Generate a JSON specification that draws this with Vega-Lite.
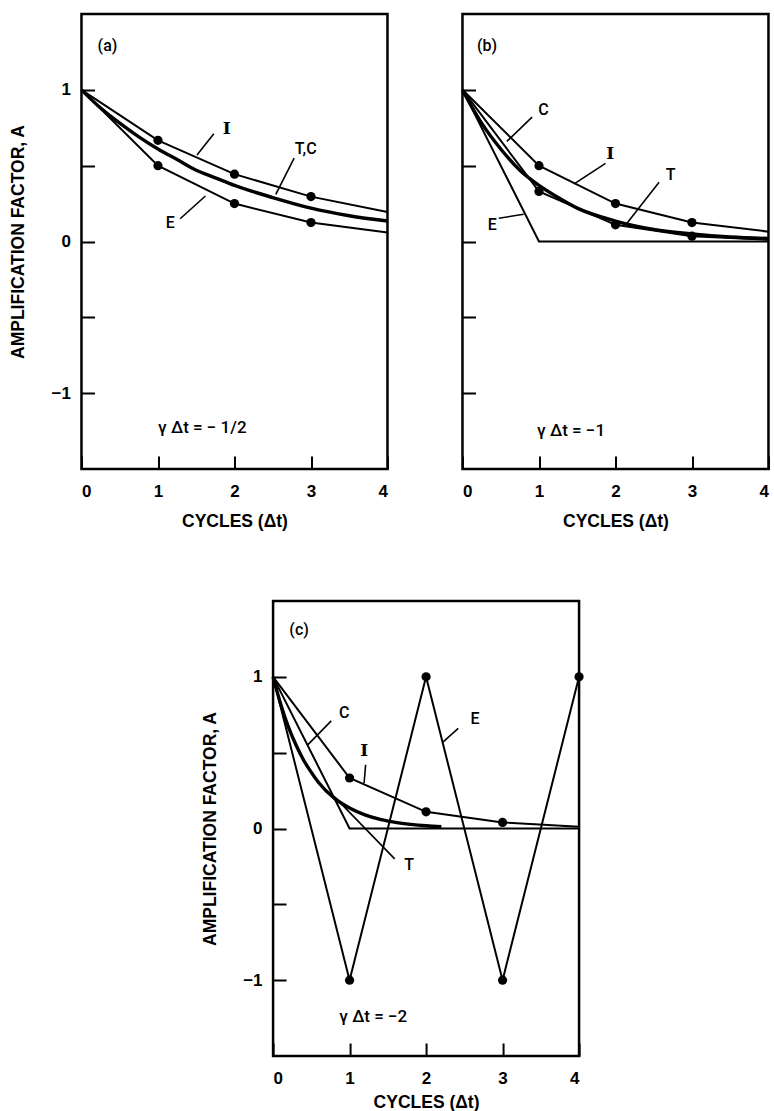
{
  "$schema": "https://vega.github.io/schema/vega-lite/v6.json",
  "padding": {"left": 8, "top": 12, "right": 0, "bottom": 0},
  "background": "white",
  "center": true,
  "spacing": 68,
  "config": {
    "view": {"stroke": "black", "strokeWidth": 2.5},
    "font": "Liberation Sans",
    "axis": {
      "grid": false, "domain": false, "tickColor": "black", "tickWidth": 2, "tickSize": -13,
      "labelFont": "Liberation Sans", "labelFontWeight": "bold", "labelFontSize": 17, "labelColor": "black",
      "titleFont": "Liberation Sans", "titleFontWeight": "bold", "titleFontSize": 17.5, "titleColor": "black"
    },
    "axisX": {"labelPadding": 35, "labelBaseline": "middle", "labelAngle": 0},
    "axisY": {"labelPadding": 24, "labelBaseline": "middle"}
  },
  "datasets": {
    "lines": [
      {"panel": "a", "series": "I", "x": 0, "y": 1}, {"panel": "a", "series": "I", "x": 1, "y": 0.667}, {"panel": "a", "series": "I", "x": 2, "y": 0.444}, {"panel": "a", "series": "I", "x": 3, "y": 0.296}, {"panel": "a", "series": "I", "x": 4, "y": 0.195},
      {"panel": "a", "series": "E", "x": 0, "y": 1}, {"panel": "a", "series": "E", "x": 1, "y": 0.5}, {"panel": "a", "series": "E", "x": 2, "y": 0.25}, {"panel": "a", "series": "E", "x": 3, "y": 0.125}, {"panel": "a", "series": "E", "x": 4, "y": 0.06},
      {"panel": "a", "series": "T", "x": 0, "y": 1}, {"panel": "a", "series": "T", "x": 0.25, "y": 0.88}, {"panel": "a", "series": "T", "x": 0.5, "y": 0.78}, {"panel": "a", "series": "T", "x": 0.75, "y": 0.69}, {"panel": "a", "series": "T", "x": 1, "y": 0.61}, {"panel": "a", "series": "T", "x": 1.25, "y": 0.54}, {"panel": "a", "series": "T", "x": 1.5, "y": 0.47}, {"panel": "a", "series": "T", "x": 1.75, "y": 0.42}, {"panel": "a", "series": "T", "x": 2, "y": 0.37}, {"panel": "a", "series": "T", "x": 2.5, "y": 0.29}, {"panel": "a", "series": "T", "x": 3, "y": 0.22}, {"panel": "a", "series": "T", "x": 3.5, "y": 0.17}, {"panel": "a", "series": "T", "x": 4, "y": 0.135},
      {"panel": "b", "series": "I", "x": 0, "y": 1}, {"panel": "b", "series": "I", "x": 1, "y": 0.5}, {"panel": "b", "series": "I", "x": 2, "y": 0.25}, {"panel": "b", "series": "I", "x": 3, "y": 0.125}, {"panel": "b", "series": "I", "x": 4, "y": 0.065},
      {"panel": "b", "series": "C", "x": 0, "y": 1}, {"panel": "b", "series": "C", "x": 1, "y": 0.33}, {"panel": "b", "series": "C", "x": 2, "y": 0.11}, {"panel": "b", "series": "C", "x": 3, "y": 0.035}, {"panel": "b", "series": "C", "x": 4, "y": 0.012},
      {"panel": "b", "series": "E", "x": 0, "y": 1}, {"panel": "b", "series": "E", "x": 1, "y": 0}, {"panel": "b", "series": "E", "x": 4, "y": 0},
      {"panel": "b", "series": "T", "x": 0, "y": 1}, {"panel": "b", "series": "T", "x": 0.25, "y": 0.78}, {"panel": "b", "series": "T", "x": 0.5, "y": 0.61}, {"panel": "b", "series": "T", "x": 0.75, "y": 0.47}, {"panel": "b", "series": "T", "x": 1, "y": 0.37}, {"panel": "b", "series": "T", "x": 1.25, "y": 0.29}, {"panel": "b", "series": "T", "x": 1.5, "y": 0.22}, {"panel": "b", "series": "T", "x": 2, "y": 0.135}, {"panel": "b", "series": "T", "x": 2.5, "y": 0.08}, {"panel": "b", "series": "T", "x": 3, "y": 0.05}, {"panel": "b", "series": "T", "x": 3.5, "y": 0.03}, {"panel": "b", "series": "T", "x": 4, "y": 0.02},
      {"panel": "c", "series": "I", "x": 0, "y": 1}, {"panel": "c", "series": "I", "x": 1, "y": 0.333}, {"panel": "c", "series": "I", "x": 2, "y": 0.11}, {"panel": "c", "series": "I", "x": 3, "y": 0.04}, {"panel": "c", "series": "I", "x": 4, "y": 0.012},
      {"panel": "c", "series": "E", "x": 0, "y": 1}, {"panel": "c", "series": "E", "x": 1, "y": -1}, {"panel": "c", "series": "E", "x": 2, "y": 1}, {"panel": "c", "series": "E", "x": 3, "y": -1}, {"panel": "c", "series": "E", "x": 4, "y": 1},
      {"panel": "c", "series": "C", "x": 0, "y": 1}, {"panel": "c", "series": "C", "x": 1, "y": 0}, {"panel": "c", "series": "C", "x": 4, "y": 0},
      {"panel": "c", "series": "T", "x": 0, "y": 1}, {"panel": "c", "series": "T", "x": 0.1, "y": 0.82}, {"panel": "c", "series": "T", "x": 0.2, "y": 0.67}, {"panel": "c", "series": "T", "x": 0.3, "y": 0.55}, {"panel": "c", "series": "T", "x": 0.4, "y": 0.45}, {"panel": "c", "series": "T", "x": 0.5, "y": 0.37}, {"panel": "c", "series": "T", "x": 0.6, "y": 0.3}, {"panel": "c", "series": "T", "x": 0.8, "y": 0.2}, {"panel": "c", "series": "T", "x": 1.0, "y": 0.135}, {"panel": "c", "series": "T", "x": 1.2, "y": 0.09}, {"panel": "c", "series": "T", "x": 1.4, "y": 0.06}, {"panel": "c", "series": "T", "x": 1.6, "y": 0.04}, {"panel": "c", "series": "T", "x": 1.8, "y": 0.027}, {"panel": "c", "series": "T", "x": 2.0, "y": 0.018}, {"panel": "c", "series": "T", "x": 2.2, "y": 0.012}
    ],
    "dots": [
      {"panel": "a", "series": "I", "x": 1, "y": 0.667}, {"panel": "a", "series": "I", "x": 2, "y": 0.444}, {"panel": "a", "series": "I", "x": 3, "y": 0.296},
      {"panel": "a", "series": "E", "x": 1, "y": 0.5}, {"panel": "a", "series": "E", "x": 2, "y": 0.25}, {"panel": "a", "series": "E", "x": 3, "y": 0.125},
      {"panel": "b", "series": "I", "x": 1, "y": 0.5}, {"panel": "b", "series": "I", "x": 2, "y": 0.25}, {"panel": "b", "series": "I", "x": 3, "y": 0.125},
      {"panel": "b", "series": "C", "x": 1, "y": 0.33}, {"panel": "b", "series": "C", "x": 2, "y": 0.11}, {"panel": "b", "series": "C", "x": 3, "y": 0.035},
      {"panel": "c", "series": "I", "x": 1, "y": 0.333}, {"panel": "c", "series": "I", "x": 2, "y": 0.11}, {"panel": "c", "series": "I", "x": 3, "y": 0.04},
      {"panel": "c", "series": "E", "x": 1, "y": -1}, {"panel": "c", "series": "E", "x": 2, "y": 1}, {"panel": "c", "series": "E", "x": 3, "y": -1}, {"panel": "c", "series": "E", "x": 4, "y": 1}
    ],
    "labels": [
      {"panel": "a", "label": "(a)", "x": 0.34, "y": 1.29}, {"panel": "a", "label": "I", "x": 1.9, "y": 0.745}, {"panel": "a", "label": "T,C", "x": 2.93, "y": 0.61}, {"panel": "a", "label": "E", "x": 1.16, "y": 0.12},
      {"panel": "b", "label": "(b)", "x": 0.32, "y": 1.29}, {"panel": "b", "label": "C", "x": 1.06, "y": 0.87}, {"panel": "b", "label": "I", "x": 1.93, "y": 0.58}, {"panel": "b", "label": "T", "x": 2.72, "y": 0.44}, {"panel": "b", "label": "E", "x": 0.39, "y": 0.11},
      {"panel": "c", "label": "(c)", "x": 0.34, "y": 1.31}, {"panel": "c", "label": "C", "x": 0.93, "y": 0.76}, {"panel": "c", "label": "I", "x": 1.19, "y": 0.51}, {"panel": "c", "label": "T", "x": 1.78, "y": -0.24}, {"panel": "c", "label": "E", "x": 2.64, "y": 0.72}
    ],
    "formulas": [
      {"panel": "a", "label": "γ  Δt  =  −  1/2", "x": 1.58, "y": -1.23},
      {"panel": "b", "label": "γ  Δt = −1", "x": 1.42, "y": -1.25},
      {"panel": "c", "label": "γ Δt = −2", "x": 1.31, "y": -1.24}
    ],
    "leaders": [
      {"panel": "a", "x": 1.73, "y": 0.71, "x2": 1.51, "y2": 0.57}, {"panel": "a", "x": 2.78, "y": 0.55, "x2": 2.54, "y2": 0.31}, {"panel": "a", "x": 1.29, "y": 0.15, "x2": 1.62, "y2": 0.3},
      {"panel": "b", "x": 0.91, "y": 0.82, "x2": 0.58, "y2": 0.66}, {"panel": "b", "x": 1.87, "y": 0.515, "x2": 1.46, "y2": 0.38}, {"panel": "b", "x": 2.57, "y": 0.39, "x2": 2.15, "y2": 0.12}, {"panel": "b", "x": 0.475, "y": 0.153, "x2": 0.8, "y2": 0.18},
      {"panel": "c", "x": 0.76, "y": 0.71, "x2": 0.45, "y2": 0.55}, {"panel": "c", "x": 1.21, "y": 0.42, "x2": 1.19, "y2": 0.3}, {"panel": "c", "x": 1.59, "y": -0.2, "x2": 0.8, "y2": 0.21}, {"panel": "c", "x": 2.42, "y": 0.66, "x2": 2.22, "y2": 0.57}
    ]
  },
  "vconcat": [
    {
      "spacing": 57,
      "hconcat": [
        {
          "width": 306, "height": 455,
          "encoding": {
            "x": {"field": "x", "type": "quantitative", "scale": {"domain": [0, 4], "nice": false, "zero": false}, "axis": {"values": [0, 1, 2, 3, 4], "format": "d", "title": "CYCLES (Δt)", "titleY": 52, "titleBaseline": "middle"}},
            "y": {"field": "y", "type": "quantitative", "scale": {"domain": [-1.5, 1.5], "nice": false, "zero": false}, "axis": {"values": [-1, -0.5, 0, 0.5, 1], "labelExpr": "datum.value == 1 ? '1' : datum.value == 0 ? '0' : datum.value == -1 ? '−1' : ''", "title": "AMPLIFICATION FACTOR, A", "titleX": -63, "titleBaseline": "middle"}}
          },
          "layer": [
            {"data": {"values": [{}]}, "mark": {"type": "rule", "color": "black", "strokeWidth": 2}, "encoding": {"x": {"datum": 0}, "x2": {"datum": 4}, "y": {"datum": 0}}},
            {"data": {"name": "lines"}, "transform": [{"filter": "datum.panel == 'a' && datum.series != 'T'"}], "mark": {"type": "line", "color": "black", "strokeWidth": 2}, "encoding": {"detail": {"field": "series"}}},
            {"data": {"name": "lines"}, "transform": [{"filter": "datum.panel == 'a' && datum.series == 'T'"}], "mark": {"type": "line", "color": "black", "strokeWidth": 3.4, "interpolate": "monotone"}, "encoding": {}},
            {"data": {"name": "dots"}, "transform": [{"filter": "datum.panel == 'a'"}], "mark": {"type": "point", "filled": true, "color": "black", "opacity": 1, "size": 85}, "encoding": {}},
            {"data": {"name": "leaders"}, "transform": [{"filter": "datum.panel == 'a'"}], "mark": {"type": "rule", "color": "black", "strokeWidth": 1.6}, "encoding": {"x2": {"field": "x2"}, "y2": {"field": "y2"}}},
            {"data": {"name": "labels"}, "transform": [{"filter": "datum.panel == 'a' && datum.label != 'I'"}], "mark": {"type": "text", "font": "Roboto", "fontWeight": 500, "fontSize": 16, "color": "black"}, "encoding": {"text": {"field": "label"}}},
            {"data": {"name": "labels"}, "transform": [{"filter": "datum.panel == 'a' && datum.label == 'I'"}], "mark": {"type": "text", "font": "DejaVu Serif", "fontWeight": "bold", "fontSize": 17, "color": "black"}, "encoding": {"text": {"field": "label"}}},
            {"data": {"name": "formulas"}, "transform": [{"filter": "datum.panel == 'a'"}], "mark": {"type": "text", "font": "Roboto", "fontWeight": 500, "fontSize": 17, "color": "black"}, "encoding": {"text": {"field": "label"}}}
          ]
        },
        {
          "width": 306, "height": 455,
          "encoding": {
            "x": {"field": "x", "type": "quantitative", "scale": {"domain": [0, 4], "nice": false, "zero": false}, "axis": {"values": [0, 1, 2, 3, 4], "format": "d", "title": "CYCLES (Δt)", "titleY": 52, "titleBaseline": "middle"}},
            "y": {"field": "y", "type": "quantitative", "scale": {"domain": [-1.5, 1.5], "nice": false, "zero": false}, "axis": {"values": [-1, -0.5, 0, 0.5, 1], "labels": false, "title": null}}
          },
          "layer": [
            {"data": {"values": [{}]}, "mark": {"type": "rule", "color": "black", "strokeWidth": 2}, "encoding": {"x": {"datum": 0}, "x2": {"datum": 4}, "y": {"datum": 0}}},
            {"data": {"name": "lines"}, "transform": [{"filter": "datum.panel == 'b' && datum.series != 'T'"}], "mark": {"type": "line", "color": "black", "strokeWidth": 2}, "encoding": {"detail": {"field": "series"}}},
            {"data": {"name": "lines"}, "transform": [{"filter": "datum.panel == 'b' && datum.series == 'T'"}], "mark": {"type": "line", "color": "black", "strokeWidth": 3.4, "interpolate": "monotone"}, "encoding": {}},
            {"data": {"name": "dots"}, "transform": [{"filter": "datum.panel == 'b'"}], "mark": {"type": "point", "filled": true, "color": "black", "opacity": 1, "size": 85}, "encoding": {}},
            {"data": {"name": "leaders"}, "transform": [{"filter": "datum.panel == 'b'"}], "mark": {"type": "rule", "color": "black", "strokeWidth": 1.6}, "encoding": {"x2": {"field": "x2"}, "y2": {"field": "y2"}}},
            {"data": {"name": "labels"}, "transform": [{"filter": "datum.panel == 'b' && datum.label != 'I'"}], "mark": {"type": "text", "font": "Roboto", "fontWeight": 500, "fontSize": 16, "color": "black"}, "encoding": {"text": {"field": "label"}}},
            {"data": {"name": "labels"}, "transform": [{"filter": "datum.panel == 'b' && datum.label == 'I'"}], "mark": {"type": "text", "font": "DejaVu Serif", "fontWeight": "bold", "fontSize": 17, "color": "black"}, "encoding": {"text": {"field": "label"}}},
            {"data": {"name": "formulas"}, "transform": [{"filter": "datum.panel == 'b'"}], "mark": {"type": "text", "font": "Roboto", "fontWeight": 500, "fontSize": 17, "color": "black"}, "encoding": {"text": {"field": "label"}}}
          ]
        }
      ]
    },
    {
      "width": 306, "height": 455,
      "encoding": {
        "x": {"field": "x", "type": "quantitative", "scale": {"domain": [0, 4], "nice": false, "zero": false}, "axis": {"values": [0, 1, 2, 3, 4], "format": "d", "title": "CYCLES (Δt)", "titleY": 46, "titleBaseline": "middle"}},
        "y": {"field": "y", "type": "quantitative", "scale": {"domain": [-1.5, 1.5], "nice": false, "zero": false}, "axis": {"values": [-1, -0.5, 0, 0.5, 1], "labelExpr": "datum.value == 1 ? '1' : datum.value == 0 ? '0' : datum.value == -1 ? '−1' : ''", "title": "AMPLIFICATION FACTOR, A", "titleX": -63, "titleBaseline": "middle"}}
      },
      "layer": [
        {"data": {"values": [{}]}, "mark": {"type": "rule", "color": "black", "strokeWidth": 2}, "encoding": {"x": {"datum": 0}, "x2": {"datum": 4}, "y": {"datum": 0}}},
        {"data": {"name": "lines"}, "transform": [{"filter": "datum.panel == 'c' && datum.series != 'T'"}], "mark": {"type": "line", "color": "black", "strokeWidth": 2}, "encoding": {"detail": {"field": "series"}}},
        {"data": {"name": "lines"}, "transform": [{"filter": "datum.panel == 'c' && datum.series == 'T'"}], "mark": {"type": "line", "color": "black", "strokeWidth": 3.4, "interpolate": "monotone"}, "encoding": {}},
        {"data": {"name": "dots"}, "transform": [{"filter": "datum.panel == 'c'"}], "mark": {"type": "point", "filled": true, "color": "black", "opacity": 1, "size": 85}, "encoding": {}},
        {"data": {"name": "leaders"}, "transform": [{"filter": "datum.panel == 'c'"}], "mark": {"type": "rule", "color": "black", "strokeWidth": 1.6}, "encoding": {"x2": {"field": "x2"}, "y2": {"field": "y2"}}},
        {"data": {"name": "labels"}, "transform": [{"filter": "datum.panel == 'c' && datum.label != 'I'"}], "mark": {"type": "text", "font": "Roboto", "fontWeight": 500, "fontSize": 16, "color": "black"}, "encoding": {"text": {"field": "label"}}},
        {"data": {"name": "labels"}, "transform": [{"filter": "datum.panel == 'c' && datum.label == 'I'"}], "mark": {"type": "text", "font": "DejaVu Serif", "fontWeight": "bold", "fontSize": 17, "color": "black"}, "encoding": {"text": {"field": "label"}}},
        {"data": {"name": "formulas"}, "transform": [{"filter": "datum.panel == 'c'"}], "mark": {"type": "text", "font": "Roboto", "fontWeight": 500, "fontSize": 17, "color": "black"}, "encoding": {"text": {"field": "label"}}}
      ]
    }
  ]
}
